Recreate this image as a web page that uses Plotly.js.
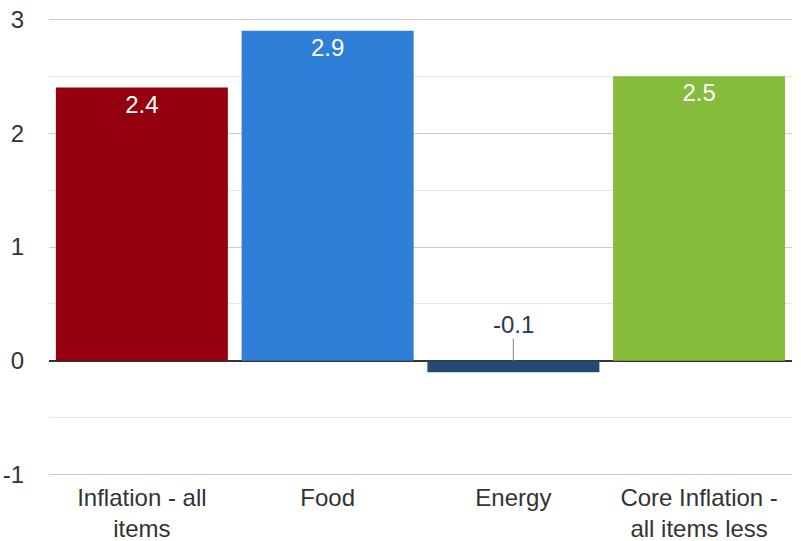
<!DOCTYPE html>
<html>
<head>
<meta charset="utf-8">
<script src="https://cdn.plot.ly/plotly-3.0.1.min.js"></script>
<style>html,body{margin:0;padding:0;background:#fff;}#chart{width:801px;height:541px;}</style>
</head>
<body>
<div id="chart"></div>
<script>
const categories = ["Inflation - all items", "Food", "Energy", "Core Inflation - all items less food and energy"];
const tickLabels = ["Inflation - all<br>items", "Food", "Energy", "Core Inflation -<br>all items less"];
const values = [2.4, 2.9, -0.1, 2.5];
const labels = ["2.4", "2.9", "-0.1", "2.5"];
const colors = ["#94000f", "#2f7ed8", "#244a73", "#86bb3b"];
const yTicks = [-1, 0, 1, 2, 3];
const yTickLabels = ["-1", "0", "1", "2", "3"];
const yMinor = [-0.5, 0.5, 1.5, 2.5];

const FONT = 'Liberation Sans, Arial, sans-serif';
const insideText = values.map((v, i) => v >= 0 ? labels[i] : "");
const annotations = [];
values.forEach((v, i) => {
  if (v < 0) {
    annotations.push({
      x: categories[i], y: 0, xref: 'x', yref: 'y',
      text: labels[i], showarrow: true, arrowhead: 0, arrowwidth: 1.2,
      arrowcolor: '#999999', ax: 0, ay: -22, standoff: 0, borderpad: 0,
      font: {family: FONT, size: 24, color: '#233a57'},
      yanchor: 'bottom'
    });
  }
});

const trace = {
  type: 'bar',
  x: categories,
  y: values,
  marker: {color: colors},
  text: insideText,
  textposition: 'inside',
  insidetextanchor: 'end',
  textangle: 0,
  textfont: {family: FONT, size: 24, color: '#ffffff'},
  hoverinfo: 'none',
  cliponaxis: false
};

const layout = {
  width: 801, height: 541,
  margin: {l: 49, r: 9, t: 17, b: 64},
  paper_bgcolor: '#ffffff', plot_bgcolor: '#ffffff',
  bargap: 0.074,
  showlegend: false,
  font: {family: FONT, size: 24, color: '#333333'},
  xaxis: {
    type: 'category',
    tickvals: categories,
    ticktext: tickLabels,
    showgrid: false, zeroline: false, showline: false, ticks: '',
    tickfont: {family: FONT, size: 24, color: '#333333'},
    ticklabelstandoff: 4,
    fixedrange: true
  },
  yaxis: {
    range: [-1.02, 3.02],
    tickvals: yTicks,
    ticktext: yTickLabels,
    showgrid: true, gridcolor: '#cccccc', gridwidth: 1,
    minor: {tickvals: yMinor, showgrid: true, gridcolor: '#e6e6e6', gridwidth: 1, ticks: ''},
    zeroline: true, zerolinecolor: '#333333', zerolinewidth: 1.5,
    showline: false, ticks: '',
    tickfont: {family: FONT, size: 24, color: '#333333'},
    ticklabelstandoff: 24,
    fixedrange: true
  },
  annotations: annotations
};

Plotly.newPlot('chart', [trace], layout, {displayModeBar: false, staticPlot: true});
</script>
</body>
</html>
